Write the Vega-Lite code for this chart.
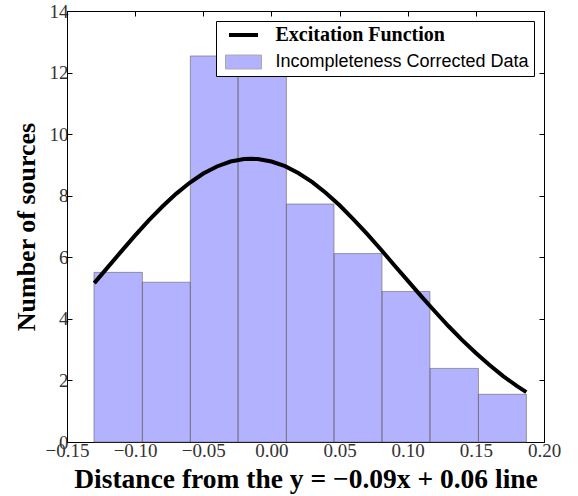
{
  "$schema": "https://vega.github.io/schema/vega-lite/v6.json",
  "autosize": {"type": "none"},
  "width": 477,
  "height": 431,
  "padding": {"left": 67, "top": 11, "right": 34, "bottom": 54},
  "datasets": {
    "bars": [
      {"x0": -0.1302, "x1": -0.0947, "count": 5.51, "series": "Incompleteness Corrected Data"},
      {"x0": -0.0947, "x1": -0.0595, "count": 5.19, "series": "Incompleteness Corrected Data"},
      {"x0": -0.0595, "x1": -0.0245, "count": 12.54, "series": "Incompleteness Corrected Data"},
      {"x0": -0.0245, "x1": 0.0110, "count": 12.5, "series": "Incompleteness Corrected Data"},
      {"x0": 0.0110, "x1": 0.0459, "count": 7.73, "series": "Incompleteness Corrected Data"},
      {"x0": 0.0459, "x1": 0.0811, "count": 6.12, "series": "Incompleteness Corrected Data"},
      {"x0": 0.0811, "x1": 0.1163, "count": 4.89, "series": "Incompleteness Corrected Data"},
      {"x0": 0.1163, "x1": 0.1519, "count": 2.39, "series": "Incompleteness Corrected Data"},
      {"x0": 0.1519, "x1": 0.1871, "count": 1.55, "series": "Incompleteness Corrected Data"}
    ],
    "curve": [
      {"x": -0.130, "y": 5.16},
      {"x": -0.120, "y": 5.68},
      {"x": -0.110, "y": 6.20},
      {"x": -0.100, "y": 6.71},
      {"x": -0.090, "y": 7.20},
      {"x": -0.080, "y": 7.65},
      {"x": -0.070, "y": 8.06},
      {"x": -0.060, "y": 8.42},
      {"x": -0.050, "y": 8.72},
      {"x": -0.040, "y": 8.95},
      {"x": -0.030, "y": 9.11},
      {"x": -0.020, "y": 9.19},
      {"x": -0.015, "y": 9.20},
      {"x": -0.010, "y": 9.19},
      {"x": 0.000, "y": 9.11},
      {"x": 0.010, "y": 8.96},
      {"x": 0.020, "y": 8.73},
      {"x": 0.030, "y": 8.44},
      {"x": 0.040, "y": 8.09},
      {"x": 0.050, "y": 7.69},
      {"x": 0.060, "y": 7.24},
      {"x": 0.070, "y": 6.77},
      {"x": 0.080, "y": 6.27},
      {"x": 0.090, "y": 5.75},
      {"x": 0.100, "y": 5.24},
      {"x": 0.110, "y": 4.73},
      {"x": 0.120, "y": 4.24},
      {"x": 0.130, "y": 3.76},
      {"x": 0.140, "y": 3.31},
      {"x": 0.150, "y": 2.89},
      {"x": 0.160, "y": 2.50},
      {"x": 0.170, "y": 2.14},
      {"x": 0.180, "y": 1.82},
      {"x": 0.187, "y": 1.62}
    ]
  },
  "layer": [
    {
      "data": {"name": "bars"},
      "mark": {"type": "bar", "opacity": 1},
      "encoding": {
        "x": {
          "field": "x0", "type": "quantitative",
          "scale": {"domain": [-0.15, 0.2], "nice": false, "zero": false},
          "axis": {
            "orient": "bottom",
            "values": [-0.15, -0.1, -0.05, 0, 0.05, 0.1, 0.15, 0.2],
            "format": ".2f",
            "title": "Distance from the y = −0.09x + 0.06 line",
            "titleFont": "Liberation Serif", "titleFontSize": 27.5, "titleFontWeight": "bold",
            "titleColor": "black", "titlePadding": 5
          }
        },
        "x2": {"field": "x1"},
        "y": {
          "field": "count", "type": "quantitative",
          "scale": {"domain": [0, 14], "nice": false},
          "axis": {
            "orient": "left",
            "values": [0, 2, 4, 6, 8, 10, 12, 14],
            "format": "d",
            "title": "Number of sources",
            "titleFont": "Liberation Serif", "titleFontSize": 26, "titleFontWeight": "bold",
            "titleColor": "black", "titlePadding": 10
          }
        },
        "y2": {"datum": 0},
        "color": {
          "field": "series", "type": "nominal",
          "scale": {"domain": ["Excitation Function", "Incompleteness Corrected Data"], "range": ["black", "#B2B2FF"]},
          "legend": {
            "title": null,
            "orient": "top-right",
            "offset": 10,
            "strokeColor": "black",
            "fillColor": "white",
            "padding": 5,
            "cornerRadius": 0,
            "symbolSize": 225,
            "symbolOffset": 13.5,
            "labelOffset": 23,
            "rowPadding": 8,
            "labelLimit": 0,
            "labelColor": "black",
            "symbolOpacity": 1,
            "symbolType": {"expr": "datum.value === 'Excitation Function' ? 'M-1.93,0H1.93' : 'M-2.4,-0.93H2.4V0.93H-2.4Z'"},
            "symbolStrokeWidth": {"expr": "datum.value === 'Excitation Function' ? 4 : 1"},
            "symbolStrokeColor": {"expr": "datum.value === 'Excitation Function' ? 'black' : '#aaaaaa'"},
            "labelFont": {"expr": "datum.value === 'Excitation Function' ? 'Liberation Serif' : 'Liberation Sans'"},
            "labelFontWeight": {"expr": "datum.value === 'Excitation Function' ? 'bold' : 'normal'"},
            "labelFontSize": {"expr": "datum.value === 'Excitation Function' ? 20 : 18"}
          }
        }
      }
    },
    {
      "data": {"name": "bars"},
      "mark": {"type": "bar", "fill": "transparent", "stroke": "#666", "strokeOpacity": 0.6, "strokeWidth": 1},
      "encoding": {
        "x": {"field": "x0", "type": "quantitative", "scale": {"domain": [-0.15, 0.2], "nice": false, "zero": false}, "axis": null},
        "x2": {"field": "x1"},
        "y": {"field": "count", "type": "quantitative", "scale": {"domain": [0, 14], "nice": false}, "axis": null},
        "y2": {"datum": 0}
      }
    },
    {
      "data": {"name": "curve"},
      "mark": {"type": "line", "strokeWidth": 4, "color": "black"},
      "encoding": {
        "x": {
          "field": "x", "type": "quantitative",
          "scale": {"domain": [-0.15, 0.2], "nice": false, "zero": false},
          "axis": {"orient": "top", "values": [-0.15, -0.1, -0.05, 0, 0.05, 0.1, 0.15, 0.2], "labels": false, "title": null}
        },
        "y": {
          "field": "y", "type": "quantitative",
          "scale": {"domain": [0, 14], "nice": false},
          "axis": {"orient": "right", "values": [0, 2, 4, 6, 8, 10, 12, 14], "labels": false, "title": null}
        }
      }
    }
  ],
  "resolve": {"axis": {"x": "independent", "y": "independent"}},
  "config": {
    "view": {"stroke": "black", "strokeWidth": 1},
    "axis": {
      "grid": false,
      "domainColor": "black",
      "domainWidth": 1,
      "tickColor": "black",
      "tickSize": -5,
      "tickWidth": 1,
      "labelFont": "Liberation Serif",
      "labelFontSize": 19,
      "labelColor": "#333",
      "labelPadding": 4,
      "labelFlush": false,
      "labelOverlap": false
    }
  }
}
